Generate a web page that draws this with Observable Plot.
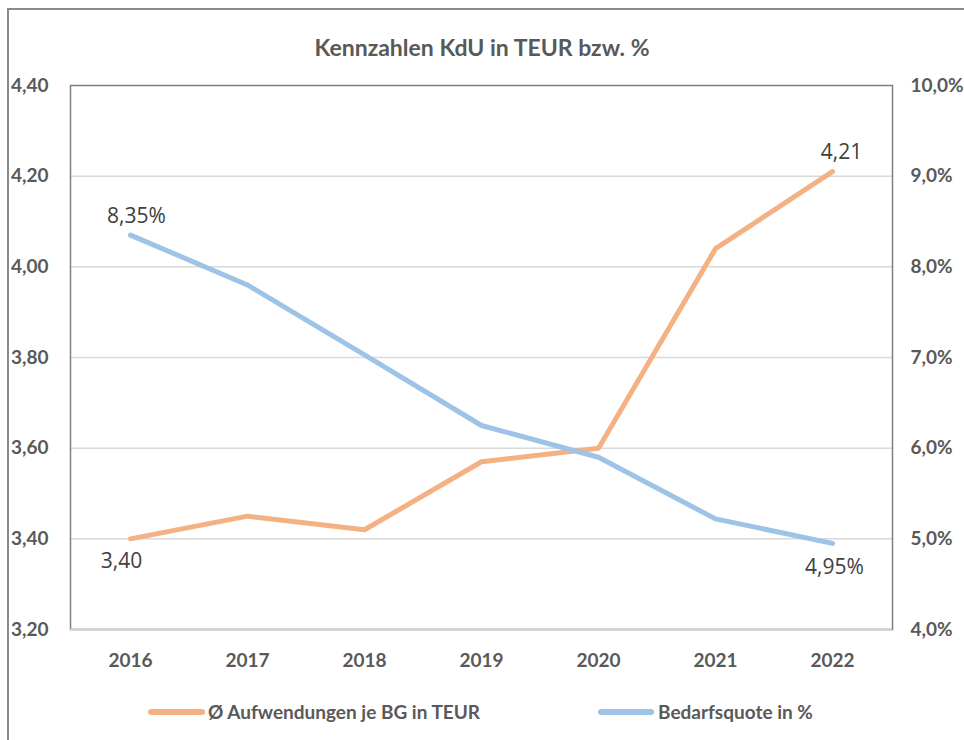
<!DOCTYPE html>
<html><head><meta charset="utf-8">
<script src="https://cdn.jsdelivr.net/npm/d3@7"></script>
<script src="https://cdn.jsdelivr.net/npm/@observablehq/plot@0.6"></script>
<style>
body{margin:0;background:#fff;}
#wrap{position:relative;width:964px;height:740px;overflow:hidden;font-family:Lato,"Open Sans",sans-serif;}
#border{position:absolute;left:7px;top:8px;width:1000px;height:800px;border-left:2px solid #8a8a8a;border-top:2px solid #8a8a8a;}
#title{position:absolute;top:32px;left:0;width:964px;text-align:center;font-weight:bold;font-size:23px;color:#595959;line-height:30px;}
#chart{position:absolute;left:0;top:60px;}
.sw{position:absolute;height:6px;border-radius:3px;top:709px;}
.lt{position:absolute;top:700px;font-weight:bold;font-size:19px;color:#595959;line-height:24px;white-space:nowrap;}
</style></head>
<body>
<div id="wrap">
<div id="border"></div>
<div id="title">Kennzahlen KdU in TEUR bzw. %</div>
<div id="chart"></div>
<div class="sw" style="left:148px;width:57px;background:#F4B183"></div>
<div class="lt" style="left:208px">Ø Aufwendungen je BG in TEUR</div>
<div class="sw" style="left:598px;width:56px;background:#9DC3E6"></div>
<div class="lt" style="left:658px">Bedarfsquote in %</div>
</div>
<script>
const years = ["2016","2017","2018","2019","2020","2021","2022"];
const aufwendungen = [3.40, 3.45, 3.42, 3.57, 3.60, 4.04, 4.21];
const bedarfsquote = [8.35, 7.80, 7.03, 6.25, 5.90, 5.22, 4.95];
const leftTicks = [3.2, 3.4, 3.6, 3.8, 4.0, 4.2, 4.4];
const rightTicks = [4, 5, 6, 7, 8, 9, 10];

// map percent (right axis 4..10) onto left axis domain (3.2..4.4)
const toLeft = p => 3.2 + (p - 4) * 0.2;
const fromLeft = v => Math.round(((v - 3.2) / 0.2 + 4) * 10) / 10;
const de = (v, n) => v.toFixed(n).replace(".", ",");

const orange = years.map((y, i) => ({year: y, v: aufwendungen[i], label: de(aufwendungen[i], 2)}));
const blue = years.map((y, i) => ({year: y, v: toLeft(bedarfsquote[i]), label: de(bedarfsquote[i], 2) + "%"}));

const tickStyle = {fontSize: 19, fontWeight: "bold", fill: "#595959", tickSize: 0, label: null};
const labelStyle = {fontSize: 21, fontFamily: "Open Sans", fill: "#404040"};

const chart = Plot.plot({
  width: 964, height: 630,
  marginTop: 25, marginBottom: 61, marginLeft: 70, marginRight: 72,
  style: {fontFamily: "Lato, 'Open Sans', sans-serif", background: "transparent", overflow: "visible"},
  x: {type: "point", domain: years, padding: 0.5, axis: null},
  y: {domain: [3.2, 4.4], axis: null},
  marks: [
    Plot.gridY(leftTicks.slice(1, -1), {stroke: "#d9d9d9", strokeOpacity: 1, strokeWidth: 1.5}),
    Plot.frame({stroke: "#7f7f7f", strokeWidth: 1.5}),
    Plot.ruleY([3.2], {stroke: "#d0d0d0", strokeWidth: 2}),
    Plot.axisY(leftTicks, {anchor: "left", tickPadding: 22, tickFormat: d => de(d, 2), ...tickStyle}),
    Plot.axisY(rightTicks.map(toLeft), {anchor: "right", tickPadding: 18, tickFormat: d => de(fromLeft(d), 1) + "%", ...tickStyle}),
    Plot.axisX(years, {anchor: "bottom", tickPadding: 24, ...tickStyle}),
    Plot.line(orange, {x: "year", y: "v", stroke: "#F4B183", strokeWidth: 5, strokeLinecap: "round", strokeLinejoin: "round"}),
    Plot.line(blue, {x: "year", y: "v", stroke: "#9DC3E6", strokeWidth: 5, strokeLinecap: "round", strokeLinejoin: "round"}),
    Plot.text([blue[0]], {x: "year", y: "v", text: "label", dx: 6, dy: -19, ...labelStyle}),
    Plot.text([orange[6]], {x: "year", y: "v", text: "label", dx: 9, dy: -19, ...labelStyle}),
    Plot.text([orange[0]], {x: "year", y: "v", text: "label", dx: -9, dy: 22, ...labelStyle}),
    Plot.text([blue[6]], {x: "year", y: "v", text: "label", dx: 2, dy: 24, ...labelStyle})
  ]
});
document.getElementById("chart").appendChild(chart);
</script>
</body></html>
